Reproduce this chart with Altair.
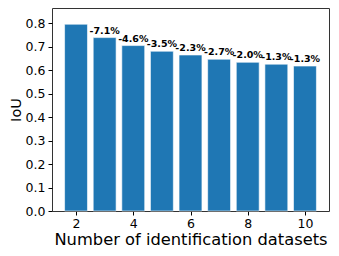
import altair as alt
import pandas as pd

datasets = [2, 3, 4, 5, 6, 7, 8, 9, 10]
iou = [0.795, 0.738, 0.704, 0.680, 0.664, 0.646, 0.633, 0.625, 0.617]
labels = ["", "-7.1%", "-4.6%", "-3.5%", "-2.3%", "-2.7%", "-2.0%", "-1.3%", "-1.3%"]
x_ticks = [2, 4, 6, 8, 10]
y_ticks = [0.0, 0.1, 0.2, 0.3, 0.4, 0.5, 0.6, 0.7, 0.8]

df = pd.DataFrame({"n": datasets, "iou": iou, "label": labels})

FONT = "DejaVu Sans"
xscale = alt.Scale(domain=[1.16, 10.84], nice=False, zero=False)
yscale = alt.Scale(domain=[0, 0.864], nice=False)

xaxis = alt.Axis(values=x_ticks, title="Number of identification datasets",
                 format="d", grid=False, domain=False, tickColor="black",
                 tickSize=4, labelPadding=2, labelFontSize=12.5,
                 labelColor="black", labelFont=FONT, titleFont=FONT,
                 titleFontSize=16.3, titleFontWeight="normal",
                 titleColor="black", titlePadding=2, labelOverlap=False)
yaxis = alt.Axis(values=y_ticks, title="IoU", format=".1f", grid=False,
                 domain=False, tickColor="black", tickSize=4,
                 labelPadding=3, labelFontSize=12.5, labelColor="black",
                 labelFont=FONT, titleFont=FONT, titleFontSize=14.5,
                 titleFontWeight="normal", titleColor="black",
                 titlePadding=2, labelOverlap=False)

base = alt.Chart(df).transform_calculate(
    x0="datum.n - 0.4", x1="datum.n + 0.4"
)

bars = base.mark_bar(color="#1f77b4", stroke="#ffffff", strokeWidth=0.6).encode(
    x=alt.X("x0:Q", scale=xscale, axis=xaxis),
    x2="x1:Q",
    y=alt.Y("iou:Q", scale=yscale, axis=yaxis),
    y2=alt.datum(0),
)

text = base.mark_text(font=FONT, fontSize=9.5, fontWeight="bold", color="black",
                      baseline="alphabetic", align="center", dy=-4).encode(
    x=alt.X("n:Q", scale=xscale, axis=xaxis),
    y=alt.Y("iou:Q", scale=yscale, axis=yaxis),
    text="label:N",
)

chart = (bars + text).properties(
    width=277, height=203,
    autosize=alt.AutoSizeParams(type="none"),
    padding={"left": 44, "top": 0, "right": 2, "bottom": 40},
).configure_view(stroke="#333333", strokeWidth=1)

chart.save("out.html", embed_options={"renderer": "svg", "actions": False})
